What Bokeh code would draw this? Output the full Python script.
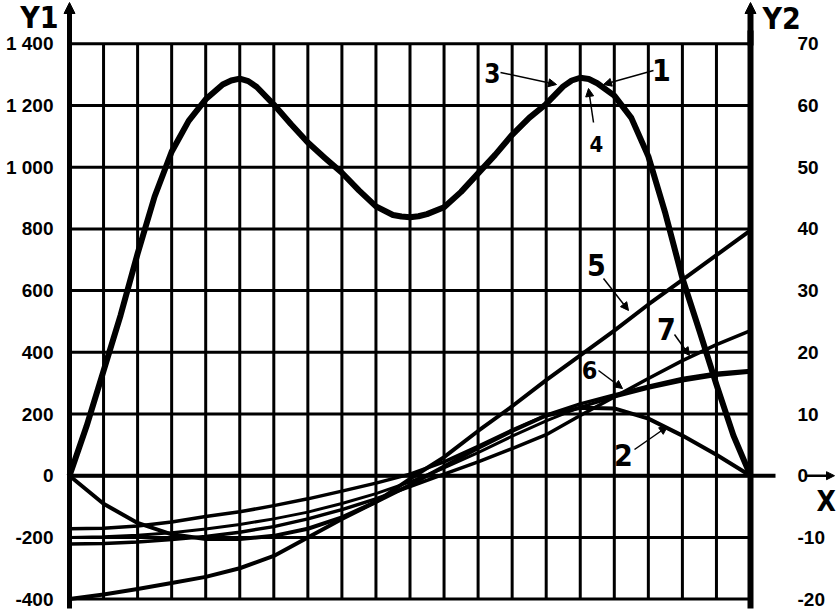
from bokeh.plotting import figure
from bokeh.models import Range1d, LinearAxis, FixedTicker, Arrow, NormalHead, Label
from bokeh.embed import file_html
from bokeh.resources import INLINE

# ---------------- data ----------------
x_fine = [0, 0.5, 1, 1.5, 2, 2.5, 3, 3.5, 4, 4.5, 4.75, 5, 5.25, 5.5, 6, 6.5, 7, 7.5, 8,
          8.5, 9, 9.5, 9.75, 10, 10.25, 10.5, 11, 11.5, 12, 12.5, 13, 13.5, 14, 14.5, 14.75,
          15, 15.25, 15.5, 16, 16.5, 17, 17.5, 18, 18.5, 19, 19.5, 20]
curve_1_3_4 = [0, 160, 340, 520, 720, 905, 1050, 1150, 1220, 1268, 1281, 1287, 1279, 1260,
               1203, 1140, 1080, 1030, 982, 925, 873, 845, 840, 838, 841, 848, 870, 920,
               980, 1040, 1105, 1160, 1205, 1262, 1281, 1290, 1286, 1272, 1232, 1160, 1035,
               850, 640, 470, 295, 130, 0]

x_int = [0, 1, 2, 3, 4, 5, 6, 7, 8, 9, 10, 11, 12, 13, 14, 15, 16, 17, 18, 19, 20]
curve_2 = [0, -91, -153, -190, -205, -205, -195, -172, -135, -85, -30, 30, 90, 145, 195,
           220, 218, 185, 130, 68, 0]
curve_5 = [-400, -385, -367, -348, -328, -300, -260, -200, -140, -85, -10, 60, 145, 225,
           310, 390, 470, 555, 635, 715, 795]
curve_6 = [-172, -170, -163, -150, -132, -117, -97, -75, -50, -24, 5, 45, 95, 148, 196,
           233, 262, 290, 315, 332, 341]
curve_7 = [-221, -220, -215, -207, -197, -183, -165, -140, -110, -75, -35, 5, 45, 88, 133,
           195, 255, 315, 373, 425, 470]
curve_8 = [-200, -198, -193, -185, -173, -158, -140, -118, -90, -58, -20, 25, 75, 128, 178,
           222, 255, 283, 307, 325, 335]

x_grid = [0, 1, 2, 3, 4, 5, 6, 7, 8, 9, 10, 11, 12, 13, 14, 15, 16, 17, 18, 19, 20]
y1_ticks = [-400, -200, 0, 200, 400, 600, 800, 1000, 1200, 1400]
y1_labels = ["-400", "-200", "0", "200", "400", "600", "800", "1 000", "1 200", "1 400"]
y2_ticks = [-20, -10, 0, 10, 20, 30, 40, 50, 60, 70]
y2_labels = ["-20", "-10", "0", "10", "20", "30", "40", "50", "60", "70"]
X_MIN, X_MAX = 0, 20
Y1_MIN, Y1_MAX = -400, 1400
Y2_PER_Y1 = 1 / 20

# curve-number tags (pixel placement of the tag text and of its leader line)
tags = ["1", "3", "4", "5", "6", "7", "2"]
tag_px = [661, 492, 596, 596, 589, 666, 623]
tag_py = [69, 72, 143, 264, 369, 328, 454]
tag_size = ["30px", "26px", "22px", "30px", "25px", "30px", "30px"]
lead_px0 = [653, 500, 593, 603, 598, 674, 634]
lead_py0 = [70, 72, 122, 278, 370, 334, 449]
lead_px1 = [603, 556, 588, 628, 622, 689, 667]
lead_py1 = [84, 84, 88, 310, 388, 355, 426]

# ---------------- layout (pixels of the page) ----------------
W, H = 837, 611
PX0, PX1 = 69, 750        # x = 0 and x = 20
PY0, PY1 = 598.6, 43.3    # y = -400 and y = 1400
ux = (X_MAX - X_MIN) / (PX1 - PX0)
uy = (Y1_MAX - Y1_MIN) / (PY0 - PY1)


def dx(px):
    return X_MIN + (px - PX0) * ux


def dy(py):
    return Y1_MIN + (PY0 - py) * uy


FONT = "Liberation Sans"
NARROW = "Liberation Sans Narrow, DejaVu Sans Condensed, Liberation Sans"

p = figure(width=W, height=H,
           x_range=Range1d(dx(0), dx(W)), y_range=Range1d(dy(H), dy(0)),
           output_backend="svg", toolbar_location=None, x_axis_location=None,
           min_border_left=0, min_border_right=0, min_border_top=0, min_border_bottom=0)
p.outline_line_color = None
p.background_fill_color = "white"
p.border_fill_color = "white"
p.grid.visible = False

# grid drawn only over the chart area
p.segment(x0=x_grid, y0=[Y1_MIN] * len(x_grid), x1=x_grid, y1=[Y1_MAX] * len(x_grid),
          line_color="black", line_width=3)
p.segment(x0=[X_MIN] * len(y1_ticks), y0=y1_ticks, x1=[X_MAX] * len(y1_ticks), y1=y1_ticks,
          line_color="black", line_width=3)

ax1 = p.yaxis[0]
ax1.fixed_location = X_MIN
ax1.bounds = (dy(608), dy(30))
ax1.ticker = FixedTicker(ticks=y1_ticks)
ax1.major_label_overrides = dict(zip(y1_ticks, y1_labels))
ax1.major_tick_line_color = None
ax1.minor_tick_line_color = None
ax1.major_tick_out = 0
ax1.major_tick_in = 0
ax1.axis_line_width = 5
ax1.major_label_standoff = 16
ax1.major_label_text_font = FONT
ax1.major_label_text_font_style = "bold"
ax1.major_label_text_font_size = "19px"
ax1.major_label_text_color = "black"

p.extra_y_ranges = {"y2": Range1d(dy(H) * Y2_PER_Y1, dy(0) * Y2_PER_Y1)}
ax2 = LinearAxis(y_range_name="y2", ticker=FixedTicker(ticks=y2_ticks))
ax2.fixed_location = X_MAX
ax2.bounds = (dy(608) * Y2_PER_Y1, dy(30) * Y2_PER_Y1)
ax2.major_label_overrides = dict(zip(y2_ticks, y2_labels))
ax2.major_tick_line_color = None
ax2.minor_tick_line_color = None
ax2.major_tick_out = 0
ax2.major_tick_in = 0
ax2.axis_line_width = 6
ax2.major_label_standoff = 47
ax2.major_label_text_align = "right"
ax2.major_label_text_font = FONT
ax2.major_label_text_font_style = "bold"
ax2.major_label_text_font_size = "19px"
ax2.major_label_text_color = "black"
p.add_layout(ax2, "right")

# data curves
p.line(x_int, curve_5, line_color="black", line_width=4, line_join="round")
p.line(x_int, curve_8, line_color="black", line_width=3, line_join="round")
p.line(x_int, curve_7, line_color="black", line_width=3.5, line_join="round")
p.line(x_int, curve_6, line_color="black", line_width=3.5, line_join="round")
p.line(x_int, curve_2, line_color="black", line_width=4, line_join="round")
p.line(x_fine, curve_1_3_4, line_color="black", line_width=6, line_join="round")

# axis arrows, zero line extension, X arrow
head = dict(fill_color="black", line_color="black")
p.add_layout(Arrow(end=NormalHead(size=11, **head), x_start=X_MIN, y_start=dy(45),
                   x_end=X_MIN, y_end=dy(2), line_color="black", line_width=5))
p.add_layout(Arrow(end=NormalHead(size=11, **head), x_start=X_MAX, y_start=dy(45),
                   x_end=X_MAX, y_end=dy(2), line_color="black", line_width=6))
p.add_layout(Arrow(end=None, x_start=X_MIN, y_start=0, x_end=dx(775), y_end=0,
                   line_color="black", line_width=4))
p.add_layout(Arrow(end=NormalHead(size=8, **head), x_start=dx(805), y_start=0,
                   x_end=dx(834), y_end=0, line_color="black", line_width=2.5))

p.add_layout(Label(x=dx(58), y=dy(17), text="Y1", text_align="right",
                   text_baseline="alphabetic", text_font=NARROW, text_font_style="bold",
                   text_font_size="30px", text_color="black"))
p.add_layout(Label(x=dx(762), y=dy(18), text="Y2", text_align="left",
                   text_baseline="alphabetic", text_font=NARROW, text_font_style="bold",
                   text_font_size="30px", text_color="black"))
p.add_layout(Label(x=dx(816), y=dy(501), text="X", text_align="left",
                   text_baseline="alphabetic", text_font=NARROW, text_font_style="bold",
                   text_font_size="28px", text_color="black"))

for t, tx, ty, ts, a0, b0, a1, b1 in zip(tags, tag_px, tag_py, tag_size,
                                         lead_px0, lead_py0, lead_px1, lead_py1):
    p.add_layout(Arrow(end=NormalHead(size=8, **head),
                       x_start=dx(a0), y_start=dy(b0), x_end=dx(a1), y_end=dy(b1),
                       line_color="black", line_width=1.5))
    p.add_layout(Label(x=dx(tx), y=dy(ty), text=t, text_align="center",
                       text_baseline="alphabetic", text_font=NARROW,
                       text_font_style="bold", text_font_size=ts, text_color="black"))

open("out.html", "w").write(file_html(p, INLINE))
